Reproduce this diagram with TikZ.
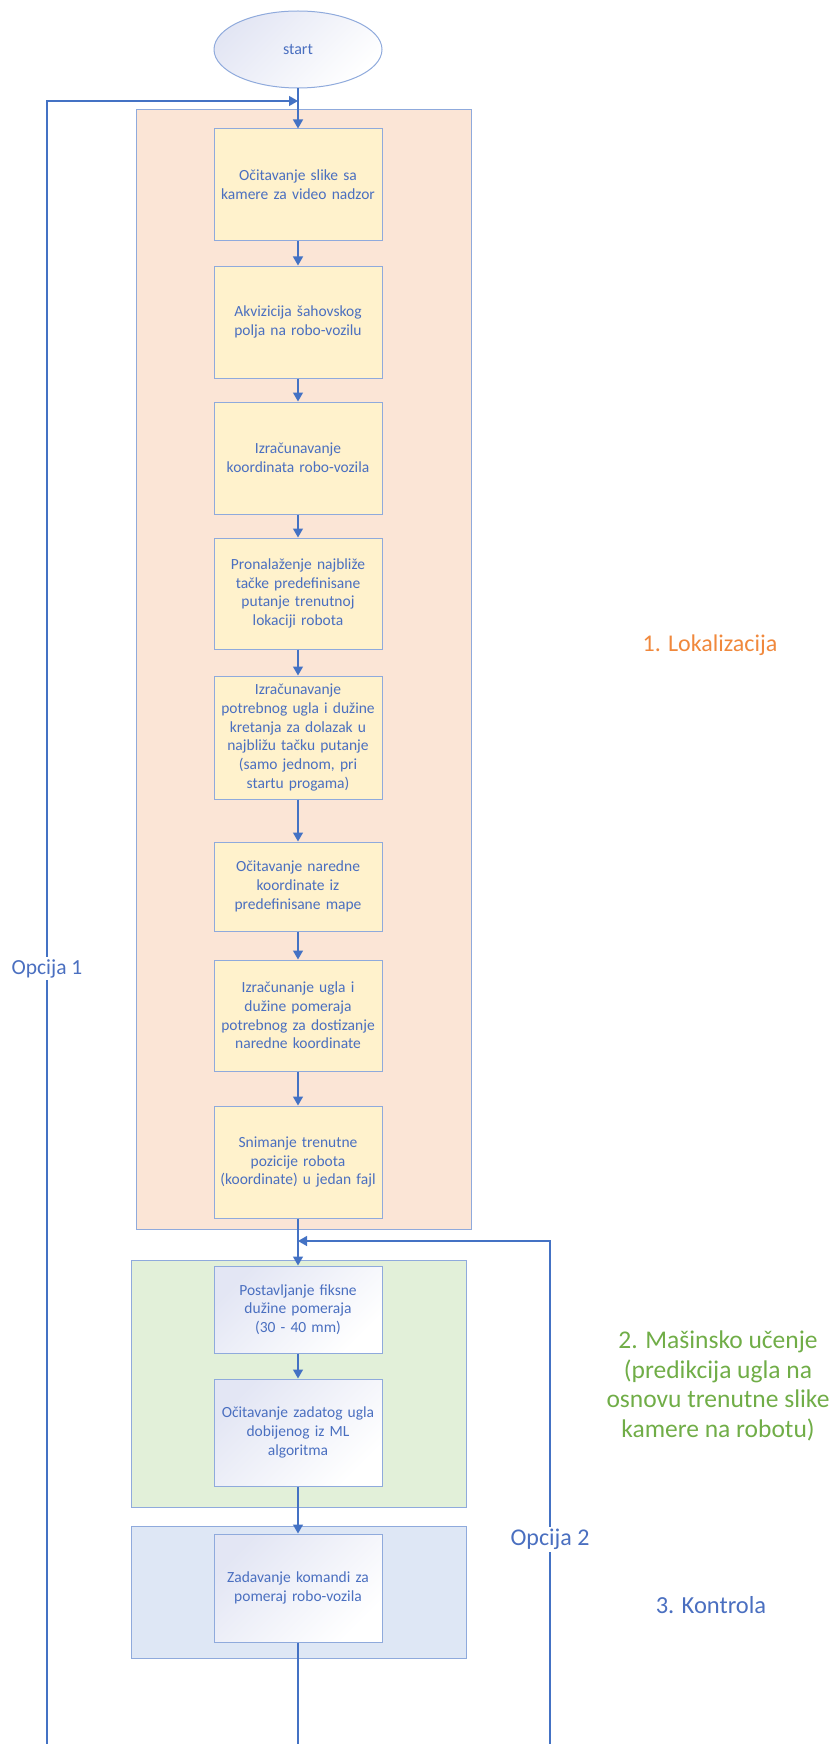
\documentclass[tikz,border=0pt]{standalone}
\usepackage{fontspec}
\setmainfont{Carlito}
\usepackage{xcolor}
\usetikzlibrary{arrows.meta,shapes.geometric}

\definecolor{linieblau}{HTML}{4472C4}
\definecolor{rubblau}{HTML}{8FAADC}
\definecolor{textblau}{HTML}{4A6FC0}
\definecolor{pfirsich}{HTML}{FBE5D6}
\definecolor{gelb}{HTML}{FFF2CC}
\definecolor{gruen}{HTML}{E2F0D9}
\definecolor{hellblau}{HTML}{DEE7F5}
\definecolor{lavendel}{HTML}{E3E6F4}
\definecolor{orangetxt}{HTML}{F0883C}
\definecolor{gruentxt}{HTML}{70AD47}

\tikzset{
  korak/.style={draw=rubblau,line width=1pt,fill=gelb,text=textblau,
    minimum width=168pt,text width=166pt,align=center,inner sep=0pt,
    font=\fontsize{15.5}{18.7}\selectfont},
  korakbeli/.style={korak,fill=none,top color=lavendel,bottom color=white,shading angle=45},
  grupa/.style={draw=rubblau,line width=1pt,minimum width=335pt,inner sep=0pt},
  strelica/.style={draw=linieblau,line width=1.3pt,-{Triangle[length=9pt,width=10pt]}},
  linija/.style={draw=linieblau,line width=1.3pt},
  opcija/.style={fill=white,text=textblau,inner sep=2pt}
}

\begin{document}
\begin{tikzpicture}[x=1pt,y=-1pt]
\useasboundingbox (0,0) rectangle (831,1744);

\node[grupa,fill=pfirsich,minimum height=1119pt] (lok) at (303.5,669.5) {};
\node[grupa,fill=gruen,minimum height=247pt] (ml) at (298.5,1383.5) {};
\node[grupa,fill=hellblau,minimum height=132pt] (kon) at (298.5,1592) {};

\node[ellipse,draw=rubblau,line width=1pt,top color=lavendel,bottom color=white,shading angle=45,
  minimum width=168pt,minimum height=77pt,text=textblau,font=\fontsize{16}{19}\selectfont] (start) at (298,49.5) {start};

\node[korak,minimum height=112pt] (b1) at (298,185) {Očitavanje slike sa\\kamere za video nadzor};
\node[korak,minimum height=112pt] (b2) at (298,322) {Akvizicija šahovskog\\polja na robo-vozilu};
\node[korak,minimum height=112pt] (b3) at (298,458) {Izračunavanje\\koordinata robo-vozila};
\node[korak,minimum height=111pt] (b4) at (298,593.5) {Pronalaženje najbliže\\tačke predefinisane\\putanje trenutnoj\\lokaciji robota};
\node[korak,minimum height=123pt] (b5) at (298,737.5) {Izračunavanje\\potrebnog ugla i dužine\\kretanja za dolazak u\\najbližu tačku putanje\\(samo jednom, pri\\startu progama)};
\node[korak,minimum height=89pt] (b6) at (298,886.5) {Očitavanje naredne\\koordinate iz\\predefinisane mape};
\node[korak,minimum height=111pt] (b7) at (298,1015.5) {Izračunanje ugla i\\dužine pomeraja\\potrebnog za dostizanje\\naredne koordinate};
\node[korak,minimum height=112pt] (b8) at (298,1162) {Snimanje trenutne\\pozicije robota\\(koordinate) u jedan fajl};

\node[korakbeli,minimum height=87pt] (b9) at (298,1309.5) {Postavljanje fiksne\\dužine pomeraja\\(30 - 40 mm)};
\node[korakbeli,minimum height=107pt] (b10) at (298,1432.5) {Očitavanje zadatog ugla\\dobijenog iz ML\\algoritma};
\node[korakbeli,minimum height=108pt] (b11) at (298,1588) {Zadavanje komandi za\\pomeraj robo-vozila};

\node[text=orangetxt,font=\fontsize{24}{29}\selectfont] (lbllok) at (710,645) {1. Lokalizacija};
\node[text=gruentxt,align=center,font=\fontsize{25.5}{29.5}\selectfont] (lblml) at (718,1386) {2. Mašinsko učenje\\(predikcija ugla na\\osnovu trenutne slike\\kamere na robotu)};
\node[text=textblau,font=\fontsize{24.5}{29}\selectfont] (lblkon) at (711,1605) {3. Kontrola};

\coordinate (ulaz) at (298,101);
\coordinate (povratak) at (298,1241);
\coordinate (l1dole) at (47,1744);
\coordinate (l1gore) at (47,101);
\coordinate (l2dole) at (550,1744);
\coordinate (l2gore) at (550,1241);
\coordinate (kraj) at (298,1744);

\draw[strelica] (start) -- (b1);
\draw[strelica] (b1) -- (b2);
\draw[strelica] (b2) -- (b3);
\draw[strelica] (b3) -- (b4);
\draw[strelica] (b4) -- (b5);
\draw[strelica] (b5) -- (b6);
\draw[strelica] (b6) -- (b7);
\draw[strelica] (b7) -- (b8);
\draw[strelica] (b8) -- (b9);
\draw[strelica] (b9) -- (b10);
\draw[strelica] (b10) -- (b11);
\draw[linija] (b11) -- (kraj);

\draw[strelica] (l1dole) -- node[opcija,pos=0.472,font=\fontsize{21.5}{25}\selectfont] (op1) {Opcija 1} (l1gore) -- (ulaz);
\draw[strelica] (l2dole) -- node[opcija,pos=0.406,font=\fontsize{24}{28}\selectfont] (op2) {Opcija 2} (l2gore) -- (povratak);
\end{tikzpicture}
\end{document}
